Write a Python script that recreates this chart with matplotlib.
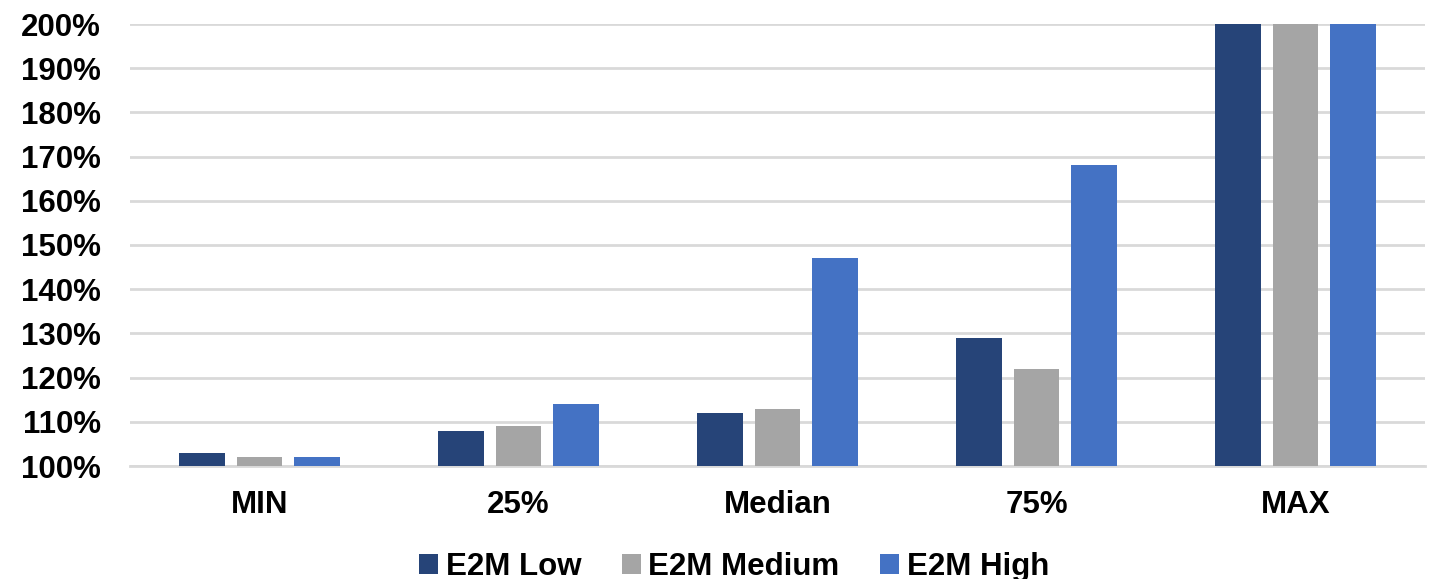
import numpy as np
import matplotlib.pyplot as plt
from matplotlib.ticker import PercentFormatter

plt.rcParams['font.family'] = ['Liberation Sans', 'DejaVu Sans']
plt.rcParams['font.weight'] = 'bold'

kategorie = ['MIN', '25%', 'Median', '75%', 'MAX']
e2m_low = [103, 108, 112, 129, 200]
e2m_medium = [102, 109, 113, 122, 200]
e2m_high = [102, 114, 147, 168, 200]

serie = [('E2M Low', e2m_low, '#264478'),
         ('E2M Medium', e2m_medium, '#A5A5A5'),
         ('E2M High', e2m_high, '#4472C4')]

fig = plt.figure(figsize=(14.35, 5.79), dpi=100)
ax = fig.add_axes([130/1435, 1 - 466/579, 1295/1435, 442/579])

x = np.arange(len(kategorie))
szer = 0.174
krok = 0.222
for i, (nazwa, wart, kolor) in enumerate(serie):
    ax.bar(x + (i - 1) * krok, np.array(wart) - 100, bottom=100, width=szer,
           color=kolor, label=nazwa, zorder=3)

ax.set_ylim(100, 200)
ax.set_xlim(-0.5, len(kategorie) - 0.5)
ax.set_yticks(np.arange(100, 201, 10))
ax.yaxis.set_major_formatter(PercentFormatter(decimals=0))
ax.set_xticks(x)
ax.set_xticklabels(kategorie)
ax.grid(axis='y', color='#D9D9D9', linewidth=2, zorder=0)
for s in ['top', 'right', 'left']:
    ax.spines[s].set_visible(False)
ax.spines['bottom'].set_color('#D9D9D9')
ax.spines['bottom'].set_linewidth(2)
ax.tick_params(axis='both', length=0, labelsize=22.5)
ax.tick_params(axis='y', pad=21)
ax.tick_params(axis='x', pad=17)
for t in ax.get_xticklabels() + ax.get_yticklabels():
    t.set_fontweight('bold')

ax.legend(loc='lower center', bbox_to_anchor=(0.4665, -0.29), ncol=3, frameon=False,
          fontsize=22.5, handlelength=0.6, handleheight=0.6, handletextpad=0.25,
          columnspacing=1.3, borderaxespad=0)

plt.savefig('out.png', dpi=100)
